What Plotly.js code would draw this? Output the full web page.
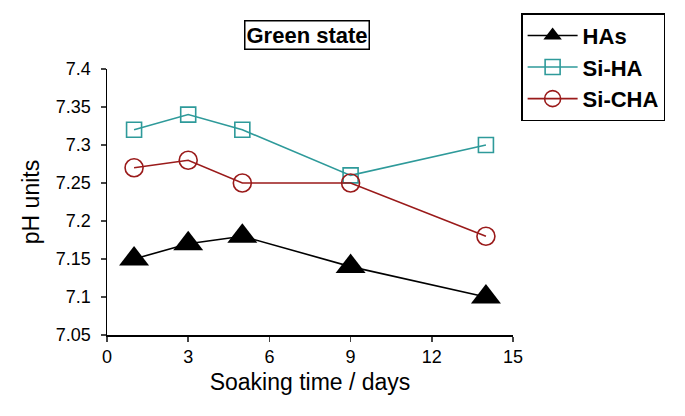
<!DOCTYPE html>
<html>
<head>
<meta charset="utf-8">
<script src="https://cdn.plot.ly/plotly-3.0.1.min.js"></script>
<style>html,body{margin:0;padding:0;background:#fff;}#chart{width:685px;height:416px;}</style>
</head>
<body>
<div id="chart"></div>
<script>
const days = [1, 3, 5, 9, 14];
const phHAs = [7.15, 7.17, 7.18, 7.14, 7.10];
const phSiHA = [7.32, 7.34, 7.32, 7.26, 7.30];
const phSiCHA = [7.27, 7.28, 7.25, 7.25, 7.18];
const seriesNames = ['HAs', 'Si-HA', 'Si-CHA'];
const yTickVals = [7.05, 7.1, 7.15, 7.2, 7.25, 7.3, 7.35, 7.4];
const yTickText = ['7.05', '7.1', '7.15', '7.2', '7.25', '7.3', '7.35', '7.4'];
const xTickVals = [0, 3, 6, 9, 12, 15];
const chartTitle = 'Green state';

const font = 'Liberation Sans, Arial, sans-serif';
const traces = [
  {x: days, y: phHAs, name: seriesNames[0], mode: 'lines+markers',
   line: {color: '#000000', width: 1.6},
   marker: {symbol: 'triangle-up', size: 26, color: '#000000'}},
  {x: days, y: phSiHA, name: seriesNames[1], mode: 'lines+markers',
   line: {color: '#2E9A9A', width: 1.6},
   marker: {symbol: 'square-open', size: 15, color: '#2E9A9A', line: {width: 1.6}}},
  {x: days, y: phSiCHA, name: seriesNames[2], mode: 'lines+markers',
   line: {color: '#9A1A1A', width: 1.6},
   marker: {symbol: 'circle-open', size: 18, color: '#9A1A1A', line: {width: 1.6}}}
];
const layout = {
  width: 685, height: 416,
  margin: {l: 107, r: 172, t: 69, b: 81},
  paper_bgcolor: '#fff', plot_bgcolor: '#fff',
  font: {family: font, color: '#000'},
  xaxis: {range: [0, 15], tickvals: xTickVals, ticks: 'outside', ticklen: 5, tickwidth: 1.5,
    showline: true, linecolor: '#000', linewidth: 1.5, showgrid: false, zeroline: false,
    ticklabelstandoff: 0,
    tickfont: {size: 18}, title: {text: 'Soaking time / days', font: {size: 23}, standoff: 8}},
  yaxis: {range: [7.05, 7.4], tickvals: yTickVals, ticktext: yTickText, ticks: 'outside', ticklen: 5, tickwidth: 1.5,
    showline: true, linecolor: '#000', linewidth: 1.5, showgrid: false, zeroline: false,
    ticklabelstandoff: 6,
    tickfont: {size: 18}, title: {text: 'pH units', font: {size: 23}, standoff: 10}},
  legend: {x: 1.02, y: 1.21, xanchor: 'left', yanchor: 'top', bordercolor: '#000', borderwidth: 1.5,
    font: {size: 22, family: font, weight: 'bold'}, bgcolor: '#fff', tracegroupgap: 0, itemwidth: 50},
  showlegend: true,
  annotations: [{xref: 'paper', yref: 'paper', x: 0.493, y: 1.128, xanchor: 'center', yanchor: 'middle',
    text: '<b>' + chartTitle + '</b>', showarrow: false, font: {size: 22, family: font},
    bordercolor: '#000', borderwidth: 1.5, borderpad: 1, bgcolor: '#fff'}]
};
Plotly.newPlot('chart', traces, layout, {displayModeBar: false, staticPlot: true});
</script>
</body>
</html>
